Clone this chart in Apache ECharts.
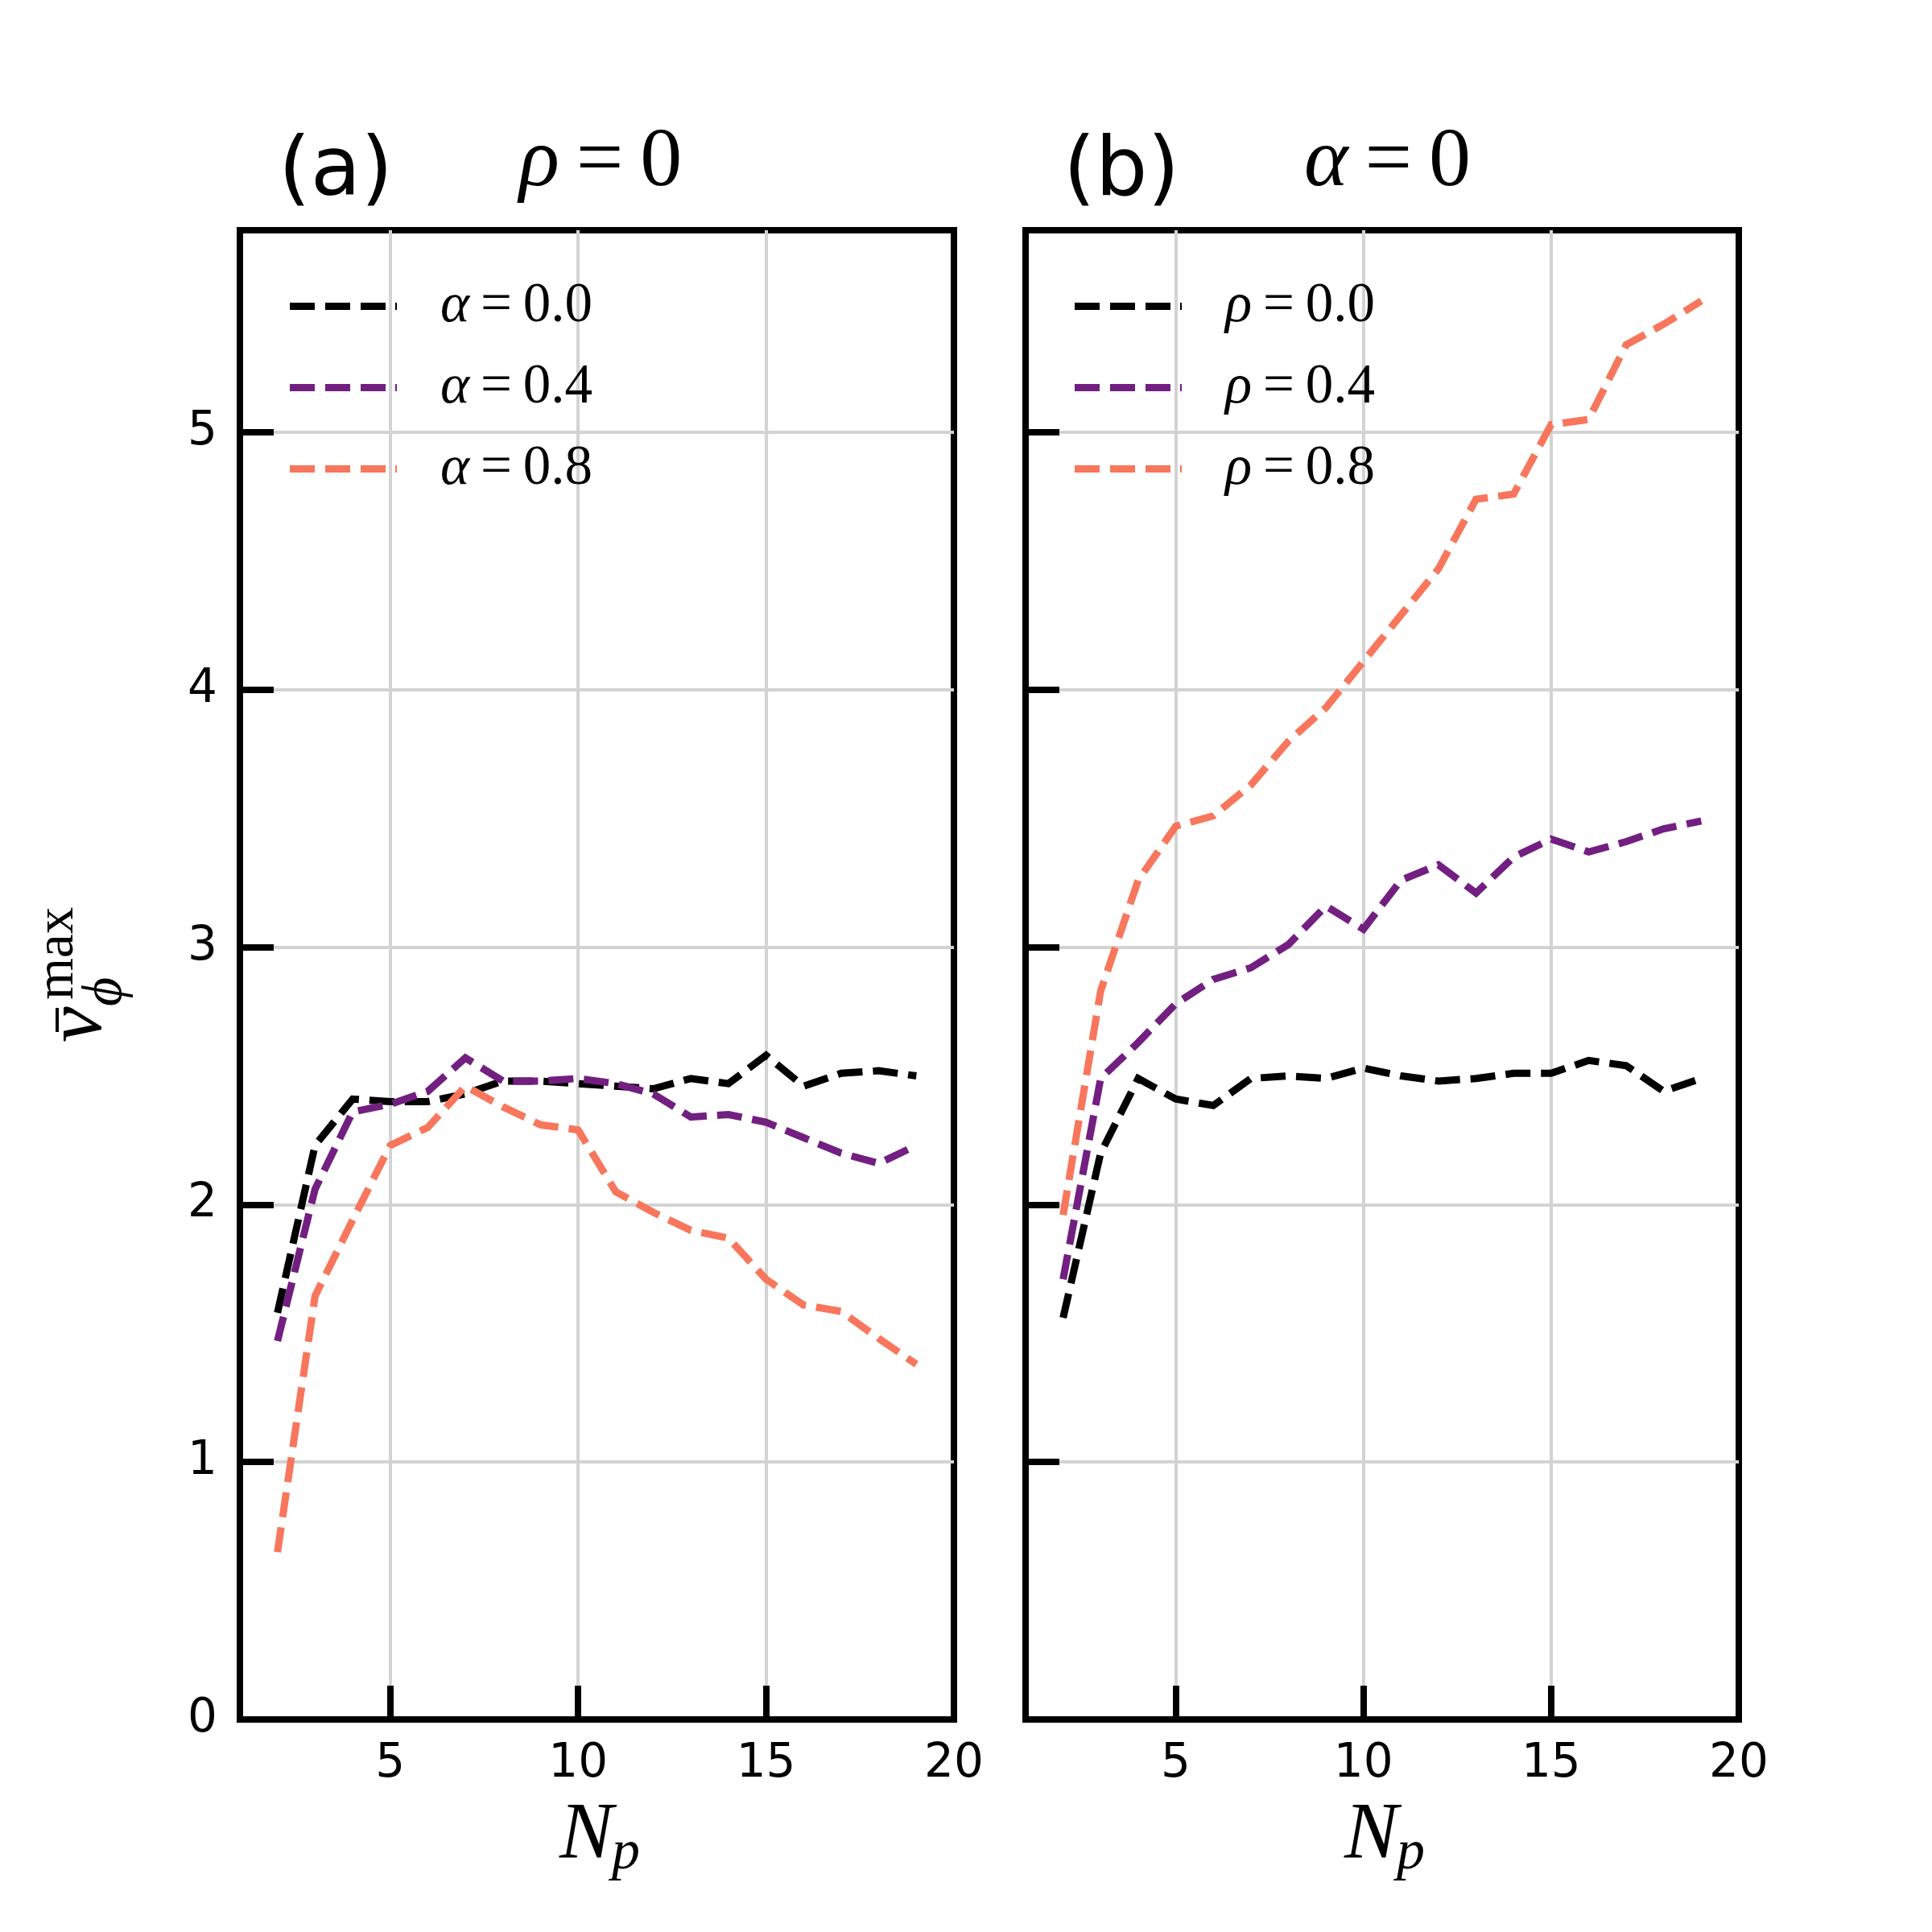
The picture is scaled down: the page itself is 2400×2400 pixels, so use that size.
<!DOCTYPE html>
<html>
<head>
<meta charset="utf-8">
<script src="https://cdn.jsdelivr.net/npm/echarts@6/dist/echarts.min.js"></script>
<style>html,body{margin:0;padding:0;background:#fff}#c{width:2400px;height:2400px}</style>
</head>
<body>
<div id="c"></div>
<script>
// ---------- data ----------
const Np = [2, 3, 4, 5, 6, 7, 8, 9, 10, 11, 12, 13, 14, 15, 16, 17, 18, 19];
const xTickValues = [5, 10, 15];
const xLabelValues = [5, 10, 15, 20];
const yTicks = [0, 1, 2, 3, 4, 5];

// panel (a): rho = 0, varying alpha
const aAlpha00 = [1.58, 2.23, 2.41, 2.40, 2.40, 2.43, 2.48, 2.48, 2.47, 2.46, 2.45, 2.49, 2.47, 2.58, 2.46, 2.51, 2.52, 2.50];
const aAlpha04 = [1.47, 2.06, 2.36, 2.39, 2.44, 2.57, 2.48, 2.48, 2.49, 2.47, 2.43, 2.34, 2.35, 2.32, 2.26, 2.20, 2.16, 2.23];
const aAlpha08 = [0.65, 1.645, 1.94, 2.23, 2.30, 2.46, 2.38, 2.31, 2.29, 2.05, 1.97, 1.90, 1.87, 1.71, 1.61, 1.585, 1.48, 1.38];

// panel (b): alpha = 0, varying rho
const bRho00 = [1.56, 2.20, 2.49, 2.41, 2.385, 2.49, 2.50, 2.49, 2.53, 2.50, 2.48, 2.49, 2.51, 2.51, 2.56, 2.54, 2.44, 2.49];
const bRho04 = [1.71, 2.49, 2.63, 2.78, 2.875, 2.92, 3.01, 3.16, 3.07, 3.26, 3.32, 3.21, 3.35, 3.42, 3.37, 3.41, 3.46, 3.49];
const bRho08 = [1.96, 2.83, 3.26, 3.47, 3.51, 3.63, 3.80, 3.93, 4.11, 4.29, 4.47, 4.74, 4.76, 5.03, 5.05, 5.34, 5.42, 5.51];

const namesA = ['α=0.0', 'α=0.4', 'α=0.8'];
const namesB = ['ρ=0.0', 'ρ=0.4', 'ρ=0.8'];
const panelLetters = ['(a)', '(b)'];
const panelParams = [['ρ', '0'], ['α', '0']];
const xName = ['N', 'p'];
const yName = ['v', 'max', 'ϕ'];

// ---------- styles ----------
const colors = ['#000000', '#721f81', '#f8765c'];
const SERIF = '"Liberation Serif", "Times New Roman", serif';
const SANS = '"DejaVu Sans", sans-serif';
const PANEL_DX = 975;
const dashIcon = 'path://M0,0H31V9H0Z M44,0H75V9H44Z M88,0H119V9H88Z M131,0H133V9H131Z';

function mkSeries(name, vals, color, idx) {
  return {
    type: 'line', name: name, xAxisIndex: idx, yAxisIndex: idx,
    data: Np.map((x, i) => [x, vals[i]]),
    symbol: 'none', showSymbol: false, color: color,
    lineStyle: { color: color, width: 9, type: [31, 13], cap: 'butt', join: 'miter' },
    emphasis: { disabled: true }, silent: true, animation: false
  };
}

function mkX(i) {
  return {
    type: 'value', gridIndex: i, min: 1, max: 20,
    axisLine: { show: true, onZero: false, lineStyle: { color: '#000', width: 8 } },
    axisTick: { show: true, inside: true, length: 42, customValues: xTickValues, lineStyle: { color: '#000', width: 8 } },
    axisLabel: { show: true, customValues: xLabelValues, margin: 27, color: '#000', fontFamily: SANS, fontSize: 58,
      alignMaxLabel: 'center' },
    splitLine: { show: true, lineStyle: { color: '#d3d3d3', width: 4 } }
  };
}
function mkY(i) {
  return {
    type: 'value', gridIndex: i, min: 0, max: 5.785,
    axisLine: { show: true, onZero: false, lineStyle: { color: '#000', width: 8 } },
    axisTick: { show: true, inside: true, length: 42, customValues: yTicks, lineStyle: { color: '#000', width: 8 } },
    axisLabel: { show: i === 0, customValues: yTicks, margin: 28, color: '#000', fontFamily: SANS, fontSize: 58,
      verticalAlign: 'middle', verticalAlignMinLabel: 'middle' },
    splitLine: { show: true, lineStyle: { color: '#d3d3d3', width: 4 } }
  };
}
function mkLegend(names, left) {
  return {
    data: names, left: left, top: 346, orient: 'vertical', padding: 0,
    itemWidth: 133, itemHeight: 9, itemGap: 32, icon: dashIcon, selectedMode: false,
    itemStyle: { borderWidth: 0 },
    formatter: n => '{i|' + n[0] + '}{n|\u2009=\u2009' + n.slice(2) + '}',
    textStyle: {
      rich: {
        i: { fontFamily: SERIF, fontStyle: 'italic', fontSize: 69, lineHeight: 68, color: '#000', padding: [0, 0, 0, 49] },
        n: { fontFamily: SERIF, fontSize: 69, lineHeight: 68, color: '#000' }
      }
    }
  };
}

const graphics = [];
for (let p = 0; p < 2; p++) {
  const dx = p * PANEL_DX;
  graphics.push({ type: 'text', x: 346 + dx, y: 215, silent: true,
    style: { text: panelLetters[p], font: '102px ' + SANS, fill: '#000', align: 'left', verticalAlign: 'middle' } });
  graphics.push({ type: 'text', x: 645 + dx, y: 203, silent: true,
    style: { text: '{i|' + panelParams[p][0] + '}{n|\u2009=\u2009' + panelParams[p][1] + '}', fill: '#000', align: 'left', verticalAlign: 'middle',
      rich: { i: { fontFamily: SERIF, fontStyle: 'italic', fontSize: 104, lineHeight: 104 }, n: { fontFamily: SERIF, fontSize: 104, lineHeight: 104 } } } });
  graphics.push({ type: 'text', x: 695 + dx, y: 2281, silent: true,
    style: { text: xName[0], font: 'italic 100px ' + SERIF, fill: '#000', align: 'left', verticalAlign: 'middle' } });
  graphics.push({ type: 'text', x: 760 + dx, y: 2303, silent: true,
    style: { text: xName[1], font: 'italic 70px ' + SERIF, fill: '#000', align: 'left', verticalAlign: 'middle' } });
}
graphics.push({
  type: 'group', x: 133, y: 1294, rotation: Math.PI / 2, silent: true,
  children: [
    { type: 'text', x: -1, y: -34, style: { text: yName[0], font: 'italic 100px ' + SERIF, fill: '#000', align: 'left', verticalAlign: 'middle' } },
    { type: 'rect', shape: { x: 12, y: -64, width: 30, height: 4 }, style: { fill: '#000' } },
    { type: 'text', x: 52, y: -61, style: { text: yName[1], font: '67px ' + SERIF, fill: '#000', align: 'left', verticalAlign: 'middle' } },
    { type: 'text', x: 44, y: -1, style: { text: yName[2], font: 'italic 70px ' + SERIF, fill: '#000', align: 'left', verticalAlign: 'middle' } }
  ]
});

const option = {
  animation: false,
  backgroundColor: '#ffffff',
  grid: [
    { left: 298, right: 1215, top: 286, bottom: 264, show: true, borderColor: '#000', borderWidth: 8, containLabel: false, outerBoundsMode: 'none' },
    { left: 1274, right: 240, top: 286, bottom: 264, show: true, borderColor: '#000', borderWidth: 8, containLabel: false, outerBoundsMode: 'none' }
  ],
  xAxis: [mkX(0), mkX(1)],
  yAxis: [mkY(0), mkY(1)],
  legend: [mkLegend(namesA, 360), mkLegend(namesB, 360 + PANEL_DX)],
  series: [
    mkSeries(namesA[0], aAlpha00, colors[0], 0),
    mkSeries(namesA[1], aAlpha04, colors[1], 0),
    mkSeries(namesA[2], aAlpha08, colors[2], 0),
    mkSeries(namesB[0], bRho00, colors[0], 1),
    mkSeries(namesB[1], bRho04, colors[1], 1),
    mkSeries(namesB[2], bRho08, colors[2], 1)
  ],
  graphic: graphics
};

const chart = echarts.init(document.getElementById('c'), null, { renderer: 'canvas', width: 2400, height: 2400 });
chart.setOption(option);
</script>
</body>
</html>
